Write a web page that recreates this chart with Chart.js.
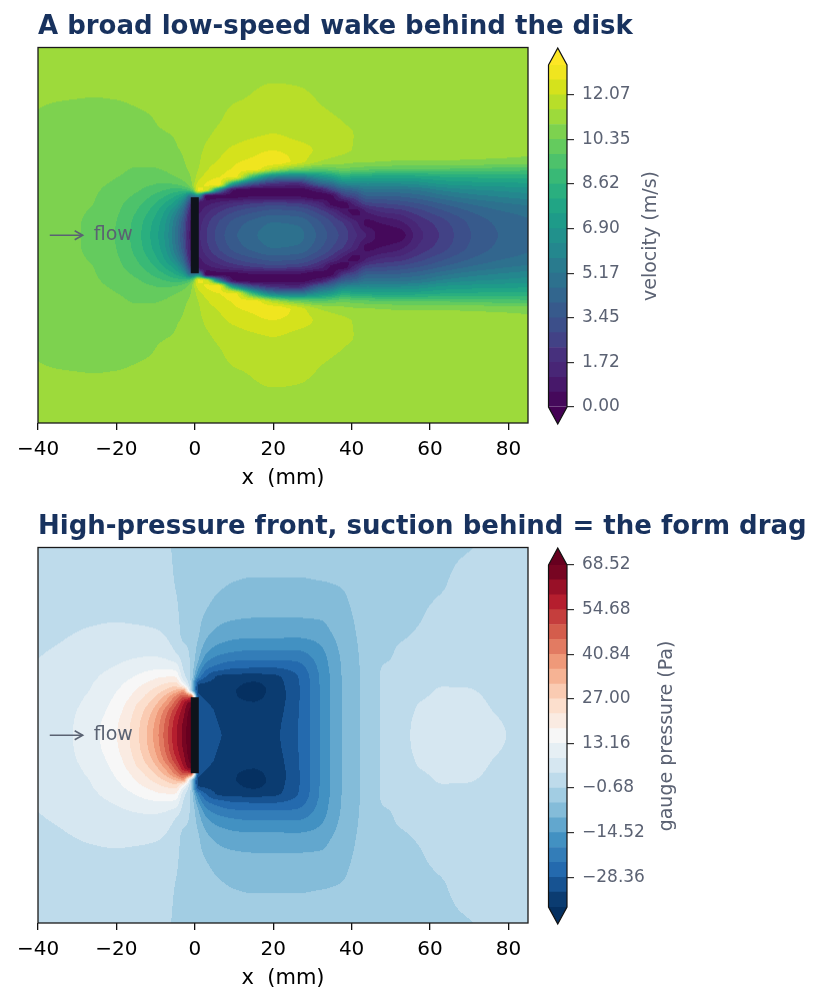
<!DOCTYPE html>
<html>
<head>
<meta charset="utf-8">
<title>Disk wake</title>
<script src="https://cdn.jsdelivr.net/npm/chart.js@4.4.1/dist/chart.umd.min.js"></script>
<style>
  html, body { margin: 0; padding: 0; background: #fff; }
  body { width: 828px; height: 1007px; position: relative; overflow: hidden; }
  .box { position: absolute; }
</style>
</head>
<body>
<div class="box" style="left:0;top:0;width:828px;height:500px"><canvas id="speedChart"></canvas></div>
<div class="box" style="left:520px;top:40px;width:180px;height:410px"><canvas id="speedBar"></canvas></div>
<div class="box" style="left:0;top:500px;width:828px;height:500px"><canvas id="pressChart"></canvas></div>
<div class="box" style="left:520px;top:540px;width:180px;height:410px"><canvas id="pressBar"></canvas></div>
<script>
// sample columns (x, mm) and rows (y, mm, upper half - both fields mirror about y = 0)
var xGrid = [-40, -32, -26, -20, -15, -11, -8, -5, -3, -1, 1, 3, 6, 10, 15, 20, 26, 32, 35, 38, 41, 44, 48, 52, 57, 63, 70, 77, 85];
var yGrid = [0, 3, 6, 8, 10, 11.5, 13, 15, 17, 19, 22, 26, 31, 38, 48];

// velocity (m/s), one line per x column, going up in y
var speed = [
  [10.65,10.65,10.66,10.67,10.68,10.69,10.70,10.72,10.74,10.76,10.79,10.85,10.91,10.96,11.04],
  [10.45,10.45,10.47,10.49,10.52,10.54,10.57,10.61,10.65,10.68,10.73,10.79,10.86,10.97,11.05],
  [10.19,10.21,10.28,10.35,10.38,10.41,10.44,10.49,10.54,10.61,10.69,10.77,10.85,10.96,11.06],
  [9.71,9.76,9.85,9.93,10.04,10.15,10.26,10.36,10.44,10.52,10.65,10.77,10.86,10.97,11.08],
  [8.90,8.97,9.20,9.40,9.66,9.85,10.00,10.20,10.32,10.45,10.65,10.80,10.89,11.00,11.11],
  [7.95,8.06,8.42,8.77,9.17,9.49,9.80,10.08,10.30,10.47,10.68,10.86,10.93,11.06,11.15],
  [7.00,7.13,7.57,8.07,8.72,9.21,9.68,10.12,10.40,10.60,10.78,10.90,11.00,11.10,11.16],
  [5.10,5.32,6.12,7.08,8.06,8.93,9.75,10.34,10.62,10.78,10.88,10.95,11.08,11.14,11.18],
  [3.30,3.52,4.39,5.50,7.37,8.88,10.00,10.58,10.80,10.89,10.97,11.08,11.14,11.18,11.19],
  [1.00,1.08,1.50,2.30,5.00,9.51,10.75,10.93,11.05,11.12,11.16,11.18,11.20,11.20,11.20],
  [1.60,1.49,1.09,0.65,6.00,12.80,12.40,11.80,11.52,11.42,11.35,11.30,11.27,11.24,11.22],
  [2.30,2.15,1.60,0.98,0.30,12.20,12.70,12.30,12.00,11.85,11.60,11.42,11.32,11.25,11.22],
  [3.10,2.91,2.22,1.44,0.40,6.00,12.90,12.60,12.30,12.10,11.85,11.58,11.42,11.30,11.24],
  [3.90,3.67,2.87,1.96,0.40,0.55,6.50,12.90,12.70,12.55,12.20,11.75,11.58,11.38,11.25],
  [4.50,4.26,3.38,2.39,0.55,0.25,3.00,9.00,12.90,12.75,12.45,11.95,11.62,11.47,11.26],
  [4.90,4.64,3.69,2.63,0.60,0.25,1.80,6.00,11.80,13.00,12.60,12.07,11.75,11.52,11.27],
  [4.80,4.53,3.55,2.45,0.55,0.30,1.50,5.50,10.50,12.45,12.30,11.90,11.70,11.50,11.26],
  [3.80,3.54,2.59,1.52,0.20,1.00,3.80,6.80,10.00,11.50,11.95,11.75,11.55,11.42,11.25],
  [3.20,2.90,1.90,0.45,0.45,2.50,4.60,7.40,10.10,11.30,11.75,11.65,11.50,11.38,11.25],
  [2.60,2.28,0.90,0.30,2.30,3.80,5.80,8.20,10.30,11.15,11.60,11.55,11.45,11.35,11.24],
  [1.80,1.40,0.35,1.50,3.00,4.30,6.00,8.00,10.10,11.05,11.45,11.48,11.40,11.33,11.23],
  [1.10,0.45,1.20,2.60,4.00,5.00,6.20,7.90,10.00,11.00,11.30,11.35,11.32,11.30,11.22],
  [0.30,0.60,1.80,2.80,4.00,5.00,6.20,7.80,9.90,10.95,11.25,11.30,11.28,11.25,11.21],
  [0.30,0.90,2.00,3.00,4.10,5.00,6.20,7.80,9.80,10.90,11.20,11.25,11.25,11.23,11.21],
  [1.50,1.80,2.60,3.40,4.40,5.20,6.40,7.90,9.80,10.90,11.20,11.22,11.22,11.22,11.21],
  [2.40,2.60,3.30,4.00,5.00,5.80,6.90,8.10,9.80,10.90,11.20,11.21,11.21,11.21,11.20],
  [3.40,3.50,4.00,4.60,5.50,6.20,7.10,8.20,9.70,10.85,11.18,11.20,11.20,11.20,11.20],
  [4.00,4.10,4.50,5.00,5.80,6.40,7.20,8.30,9.60,10.80,11.15,11.20,11.20,11.20,11.20],
  [4.40,4.50,4.80,5.30,6.10,6.60,7.30,8.30,9.50,10.70,11.10,11.20,11.20,11.20,11.20]
];

// gauge pressure (Pa), same layout
var pressure = [
  [6.0,5.95,5.8,5.6,5.35,5.15,4.9,4.6,4.3,4.0,3.55,2.9,2.3,1.7,1.1],
  [8.2,8.1,7.9,7.6,7.3,7.0,6.7,6.3,5.8,5.3,4.6,3.8,2.9,2.0,1.1],
  [11.8,11.5,10.7,10.0,9.4,8.9,8.6,8.0,7.4,6.8,5.9,4.5,3.2,2.0,1.1],
  [17.6,17.2,16.0,15.0,13.8,12.9,11.9,10.6,9.1,8.0,6.6,5.0,3.3,2.0,1.1],
  [25.5,25.0,23.5,22.0,19.5,18.0,16.2,13.5,11.3,9.1,7.2,5.0,3.0,1.8,1.0],
  [35.2,34.3,31.7,28.7,25.4,22.6,19.8,16.1,12.6,9.7,7.2,4.7,2.6,1.5,0.9],
  [45.5,44.4,41.3,36.5,31.3,26.7,22.7,17.6,13.0,9.3,6.7,3.9,2.4,1.4,0.8],
  [58.0,57.0,53.5,48.0,40.8,32.0,24.7,17.6,12.2,7.8,3.3,1.2,0.2,-0.7,-1.2],
  [65.0,64.4,61.7,58.6,47.7,35.4,15.0,6.5,4.0,2.5,0.2,-1.2,-1.4,-1.3,-1.1],
  [72.0,71.5,70.0,67.0,45.0,2.0,-1.2,-1.5,-1.5,-1.4,-1.3,-1.2,-1.1,-1.0,-0.9],
  [-30.5,-30.5,-31.0,-31.5,-32.5,-33.5,-33.0,-21.0,-15.0,-10.5,-7.6,-5.0,-4.0,-3.0,-2.3],
  [-30.5,-30.5,-31.0,-32.5,-33.5,-33.5,-33.5,-28.8,-23.2,-18.3,-13.0,-8.9,-5.8,-3.5,-2.5],
  [-32.5,-33.0,-34.0,-35.0,-35.5,-35.0,-34.5,-33.5,-26.5,-22.0,-16.3,-11.4,-8.0,-4.8,-2.6],
  [-34.5,-35.0,-35.5,-36.5,-37.3,-37.3,-36.5,-34.5,-28.6,-23.75,-18.0,-12.8,-8.9,-5.7,-3.0],
  [-35.5,-35.8,-36.5,-37.3,-38.5,-39.5,-38.5,-35.0,-29.0,-24.3,-18.8,-13.2,-9.3,-6.1,-3.2],
  [-34.0,-34.3,-35.0,-35.5,-36.0,-36.0,-35.5,-34.0,-29.0,-24.3,-18.8,-13.2,-9.3,-6.1,-3.2],
  [-28.8,-28.9,-29.0,-29.2,-29.5,-29.5,-29.3,-28.8,-26.5,-23.5,-18.7,-13.3,-9.3,-6.1,-3.2],
  [-18.9,-18.9,-18.9,-18.9,-18.9,-18.9,-18.8,-18.7,-18.0,-17.2,-15.3,-12.3,-9.0,-5.8,-3.0],
  [-13.8,-13.8,-13.8,-13.8,-13.8,-13.8,-13.7,-13.6,-13.3,-12.9,-11.8,-9.9,-7.8,-5.5,-3.3],
  [-9.3,-9.3,-9.3,-9.3,-9.3,-9.3,-9.3,-9.2,-9.1,-8.9,-8.4,-7.5,-6.5,-5.1,-3.5],
  [-6.4,-6.4,-6.4,-6.4,-6.4,-6.4,-6.4,-6.35,-6.3,-6.2,-5.9,-5.4,-4.8,-3.9,-2.9],
  [-3.57,-3.57,-3.57,-3.57,-3.57,-3.57,-3.57,-3.55,-3.5,-3.45,-3.35,-3.2,-3.0,-2.7,-2.3],
  [-0.2,-0.2,-0.2,-0.2,-0.2,-0.25,-0.3,-0.35,-0.5,-0.9,-1.3,-1.6,-1.8,-1.9,-1.9],
  [2.4,2.3,2.0,1.7,1.3,1.0,0.7,0.3,0.0,-0.4,-0.55,-1.0,-1.3,-1.5,-1.6],
  [4.6,4.5,4.2,3.95,3.4,2.9,2.4,1.7,1.1,0.5,-0.1,-0.5,-0.9,-1.2,-1.4],
  [5.2,5.1,4.9,4.6,4.3,4.1,3.8,3.2,2.5,1.9,1.2,0.5,0.0,-0.8,-1.1],
  [5.1,5.0,4.85,4.6,4.35,4.05,3.75,3.2,2.7,2.3,1.75,1.2,0.8,0.3,-0.8],
  [4.3,4.15,3.8,3.55,3.25,3.0,2.8,2.55,2.35,2.15,1.9,1.6,1.3,1.0,0.6],
  [3.0,2.95,2.85,2.75,2.65,2.6,2.5,2.4,2.3,2.2,2.0,1.8,1.5,1.2,0.9]
];

// contour levels: lowest, highest, number of bands
var speedLevels = [0, 13.219, 23];
var pressureLevels = [-37.587, 68.52, 23];

// tick labels
var xTicks = [-40, -20, 0, 20, 40, 60, 80];
var speedTicks = [0.00, 1.72, 3.45, 5.17, 6.90, 8.62, 10.35, 12.07];
var pressureTicks = [-28.36, -14.52, -0.68, 13.16, 27.00, 40.84, 54.68, 68.52];

// the disk (a thin plate at x = 0) and the "flow" arrow
var disk = [{x: 0, y: -9.7}, {x: 0, y: 9.7}];
var flowArrow = [{x: -37, y: 0}, {x: -28.6, y: 0}];
var flowLabelAt = {x: -25.8, y: 0};

var viridis = ['#440154','#471365','#482475','#472f7d','#414487','#3b528b','#355f8d','#2f6c8e','#2a788e','#25858e',
  '#21918c','#1e9c89','#22a884','#2fb47c','#44bf70','#5ec962','#7ad151','#9fda3a','#bddf26','#dfe318','#fde725'];
var rdbuR = ['#053061','#2166ac','#4393c3','#92c5de','#d1e5f0','#f7f7f7','#fddbc7','#f4a582','#d6604d','#b2182b','#67001f'];

Chart.defaults.font.family = "'DejaVu Sans', sans-serif";

function hexRgb(h) {
  return [parseInt(h.substr(1, 2), 16), parseInt(h.substr(3, 2), 16), parseInt(h.substr(5, 2), 16)];
}
function colorAt(stops, t) {
  t = Math.max(0, Math.min(1, t));
  var p = t * (stops.length - 1);
  var i = Math.min(Math.floor(p), stops.length - 2);
  var f = p - i;
  var a = hexRgb(stops[i]), b = hexRgb(stops[i + 1]);
  return [0, 1, 2].map(function (k) { return Math.round(a[k] + (b[k] - a[k]) * f); });
}
function css(c) { return 'rgb(' + c[0] + ',' + c[1] + ',' + c[2] + ')'; }
function bandColors(levels, stops) {
  var out = [];
  for (var k = 0; k < levels[2]; k++) out.push(colorAt(stops, (k + 0.5) / levels[2]));
  return out;
}
function fmt(v) { return v.toFixed(2).replace('-', '\u2212'); }

// where v sits in a sorted list: index of the cell and fraction in it
function locate(arr, v) {
  if (v <= arr[0]) return [0, 0];
  var n = arr.length;
  if (v >= arr[n - 1]) return [n - 2, 1];
  var i = 0;
  while (arr[i + 1] < v) i++;
  return [i, (v - arr[i]) / (arr[i + 1] - arr[i])];
}

// monotone (pchip) slopes, so the shading between samples never overshoots
function slopes(xs, vs, flatStart) {
  var n = xs.length, h = [], d = [], m = [];
  for (var k = 0; k < n - 1; k++) { h[k] = xs[k + 1] - xs[k]; d[k] = (vs[k + 1] - vs[k]) / h[k]; }
  m[0] = flatStart ? 0 : d[0];
  m[n - 1] = d[n - 2];
  for (k = 1; k < n - 1; k++) {
    if (d[k - 1] * d[k] <= 0) { m[k] = 0; continue; }
    var w1 = 2 * h[k] + h[k - 1], w2 = h[k] + 2 * h[k - 1];
    m[k] = (w1 + w2) / (w1 / d[k - 1] + w2 / d[k]);
  }
  return m;
}
function hermite(x0, x1, v0, v1, m0, m1, t) {
  var hh = x1 - x0, t2 = t * t, t3 = t2 * t;
  return (2 * t3 - 3 * t2 + 1) * v0 + (t3 - 2 * t2 + t) * hh * m0 + (3 * t2 - 2 * t3) * v1 + (t3 - t2) * hh * m1;
}

function fieldPlugin(grid, levels, stops) {
  var colors = bandColors(levels, stops);
  var under = colorAt(stops, 0), over = colorAt(stops, 1);
  var step = (levels[1] - levels[0]) / levels[2];
  var ySlopes = grid.map(function (col) { return slopes(yGrid, col, true); });
  return {
    id: 'field',
    beforeDatasetsDraw: function (chart) {
      var a = chart.chartArea, xs = chart.scales.x, ys = chart.scales.y;
      var w = Math.round(a.right - a.left), h = Math.round(a.bottom - a.top);
      if (!chart.$img || chart.$img.width !== w || chart.$img.height !== h) {
        var off = document.createElement('canvas');
        off.width = w; off.height = h;
        var octx = off.getContext('2d');
        var img = octx.createImageData(w, h);
        var cols = [], rows = [];
        for (var i = 0; i < w; i++) cols.push(locate(xGrid, xs.getValueForPixel(a.left + (i + 0.5) * (a.right - a.left) / w)));
        for (var j = 0; j < h; j++) rows.push(locate(yGrid, Math.abs(ys.getValueForPixel(a.top + (j + 0.5) * (a.bottom - a.top) / h))));
        for (j = 0; j < h; j++) {
          var jy = rows[j][0], ty = rows[j][1];
          var line = grid.map(function (col, c) {
            return hermite(yGrid[jy], yGrid[jy + 1], col[jy], col[jy + 1], ySlopes[c][jy], ySlopes[c][jy + 1], ty);
          });
          var xm = slopes(xGrid, line, false);
          for (i = 0; i < w; i++) {
            var ix = cols[i][0];
            var v = hermite(xGrid[ix], xGrid[ix + 1], line[ix], line[ix + 1], xm[ix], xm[ix + 1], cols[i][1]);
            var k = Math.floor((v - levels[0]) / step);
            var col = k < 0 ? under : (k >= levels[2] ? over : colors[k]);
            var p = (j * w + i) * 4;
            img.data[p] = col[0]; img.data[p + 1] = col[1]; img.data[p + 2] = col[2]; img.data[p + 3] = 255;
          }
        }
        octx.putImageData(img, 0, 0);
        chart.$img = off;
      }
      chart.ctx.drawImage(chart.$img, a.left, a.top, a.right - a.left, a.bottom - a.top);
    }
  };
}

var overlayPlugin = {
  id: 'overlay',
  afterDatasetsDraw: function (chart) {
    var ctx = chart.ctx, a = chart.chartArea, xs = chart.scales.x, ys = chart.scales.y;
    var tx = xs.getPixelForValue(flowArrow[1].x), ty = ys.getPixelForValue(flowArrow[1].y);
    ctx.save();
    ctx.strokeStyle = '#5a6272';
    ctx.lineWidth = 1.6;
    ctx.beginPath();
    ctx.moveTo(tx - 8, ty - 4.5);
    ctx.lineTo(tx, ty);
    ctx.lineTo(tx - 8, ty + 4.5);
    ctx.stroke();
    ctx.fillStyle = '#5a6272';
    ctx.font = "19px 'DejaVu Sans'";
    ctx.textAlign = 'left';
    ctx.textBaseline = 'middle';
    ctx.fillText('flow', xs.getPixelForValue(flowLabelAt.x), ys.getPixelForValue(flowLabelAt.y));
    ctx.strokeStyle = '#1a1a1a';
    ctx.lineWidth = 1.3;
    ctx.strokeRect(a.left, a.top, a.right - a.left, a.bottom - a.top);
    ctx.restore();
  }
};

// bold heading, left-aligned on the plot frame
var headingPlugin = {
  id: 'heading',
  afterDraw: function (chart, args, opts) {
    var ctx = chart.ctx, a = chart.chartArea;
    ctx.save();
    ctx.font = "bold 26px 'DejaVu Sans'";
    ctx.fillStyle = '#18325e';
    ctx.textAlign = 'left';
    ctx.textBaseline = 'alphabetic';
    var w = ctx.measureText(opts.text).width;
    ctx.translate(a.left, a.top - 13.2);
    if (Math.abs(w - opts.width) / opts.width > 0.02) ctx.scale(opts.width / w, 1);
    ctx.fillText(opts.text, 0, 0);
    ctx.restore();
  }
};

function fieldChart(id, title, titleWidth, grid, levels, stops) {
  return new Chart(document.getElementById(id), {
    type: 'scatter',
    data: {
      datasets: [
        { data: flowArrow, showLine: true, borderColor: '#5a6272', borderWidth: 1.6, pointRadius: 0 },
        { data: disk, showLine: true, borderColor: '#0e131b', borderWidth: 8, pointRadius: 0, borderCapStyle: 'butt' }
      ]
    },
    options: {
      responsive: true,
      maintainAspectRatio: false,
      animation: false,
      events: [],
      layout: { padding: { left: 38, right: 300, top: 47.5, bottom: 7 } },
      plugins: {
        legend: { display: false },
        tooltip: { enabled: false },
        heading: { text: title, width: titleWidth }
      },
      scales: {
        x: {
          type: 'linear', min: -40, max: 85,
          afterBuildTicks: function (s) { s.ticks = xTicks.map(function (v) { return { value: v }; }); },
          afterFit: function (s) { s.height = 70; },
          grid: { drawOnChartArea: false, drawTicks: true, tickLength: 7, color: '#111', lineWidth: 1.3 },
          border: { display: false },
          ticks: {
            color: '#000', font: { size: 20 }, padding: 8, maxRotation: 0,
            callback: function (v) { return String(v).replace('-', '\u2212'); }
          },
          title: { display: true, text: 'x  (mm)', color: '#000', font: { size: 21 }, padding: { top: 0, bottom: 2 } }
        },
        y: { type: 'linear', min: -48, max: 48, display: false }
      }
    },
    plugins: [fieldPlugin(grid, levels, stops), overlayPlugin, headingPlugin]
  });
}

function colorbar(id, levels, stops, ticks, label, labelX) {
  var colors = bandColors(levels, stops);
  var step = (levels[1] - levels[0]) / levels[2];
  var datasets = colors.map(function (c, k) {
    return {
      data: [[levels[0] + k * step, levels[0] + (k + 1) * step]],
      backgroundColor: css(c), borderWidth: 0, grouped: false,
      barPercentage: 1, categoryPercentage: 1
    };
  });
  var ends = {
    id: 'ends',
    afterDraw: function (chart) {
      var ctx = chart.ctx, a = chart.chartArea;
      var ext = (a.bottom - a.top) * 0.05, mid = (a.left + a.right) / 2;
      ctx.save();
      ctx.fillStyle = css(colorAt(stops, 1));
      ctx.beginPath(); ctx.moveTo(a.left, a.top); ctx.lineTo(mid, a.top - ext); ctx.lineTo(a.right, a.top); ctx.closePath(); ctx.fill();
      ctx.fillStyle = css(colorAt(stops, 0));
      ctx.beginPath(); ctx.moveTo(a.left, a.bottom); ctx.lineTo(mid, a.bottom + ext); ctx.lineTo(a.right, a.bottom); ctx.closePath(); ctx.fill();
      ctx.strokeStyle = '#111';
      ctx.lineWidth = 1.2;
      ctx.beginPath();
      ctx.moveTo(a.left, a.top); ctx.lineTo(mid, a.top - ext); ctx.lineTo(a.right, a.top);
      ctx.lineTo(a.right, a.bottom); ctx.lineTo(mid, a.bottom + ext); ctx.lineTo(a.left, a.bottom);
      ctx.closePath(); ctx.stroke();
      ctx.translate(labelX, (a.top + a.bottom) / 2);
      ctx.rotate(-Math.PI / 2);
      ctx.fillStyle = '#5b6273';
      ctx.font = "19px 'DejaVu Sans'";
      ctx.textAlign = 'center';
      ctx.textBaseline = 'middle';
      ctx.fillText(label, 0, 0);
      ctx.restore();
    }
  };
  return new Chart(document.getElementById(id), {
    type: 'bar',
    data: { labels: [''], datasets: datasets },
    options: {
      responsive: true,
      maintainAspectRatio: false,
      animation: false,
      events: [],
      layout: { padding: { left: 28.5, right: 0, top: 25, bottom: 43 } },
      plugins: { legend: { display: false }, tooltip: { enabled: false } },
      scales: {
        x: { display: false },
        y: {
          position: 'right', min: levels[0], max: levels[1],
          afterBuildTicks: function (s) { s.ticks = ticks.map(function (v) { return { value: v }; }); },
          afterFit: function (s) { s.width = 133; },
          grid: { drawOnChartArea: false, drawTicks: true, tickLength: 7, color: '#333', lineWidth: 1.2 },
          border: { display: false },
          ticks: { color: '#5b6273', font: { size: 17 }, padding: 8, autoSkip: false, callback: function (v) { return fmt(v); } }
        }
      }
    },
    plugins: [ends]
  });
}

fieldChart('speedChart', 'A broad low-speed wake behind the disk', 600, speed, speedLevels, viridis);
colorbar('speedBar', speedLevels, viridis, speedTicks, 'velocity (m/s)', 131);
fieldChart('pressChart', 'High-pressure front, suction behind = the form drag', 774, pressure, pressureLevels, rdbuR);
colorbar('pressBar', pressureLevels, rdbuR, pressureTicks, 'gauge pressure (Pa)', 147);
</script>
</body>
</html>
